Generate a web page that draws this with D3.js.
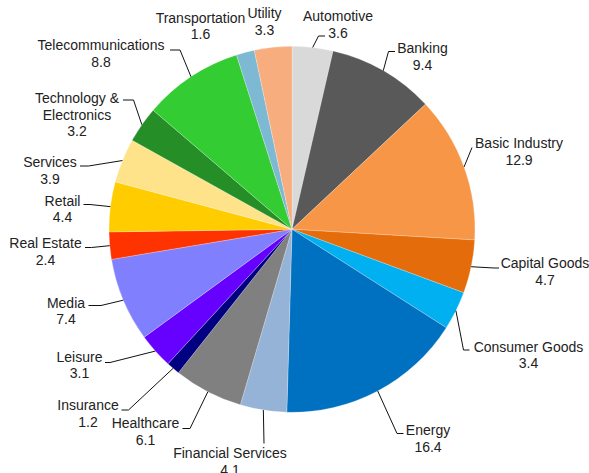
<!DOCTYPE html>
<html>
<head>
<meta charset="utf-8">
<script src="https://cdn.jsdelivr.net/npm/d3@7"></script>
<style>
  html, body { margin: 0; padding: 0; background: #fff; }
  svg { display: block; }
  text { font-family: "Liberation Sans", Arial, Helvetica, sans-serif; font-size: 14px; fill: #222; }
</style>
</head>
<body>
<svg id="chart" width="589" height="473"></svg>
<script>
// Sector weights (%), clockwise from 12 o'clock
const sectors = ["Automotive", "Banking", "Basic Industry", "Capital Goods", "Consumer Goods",
  "Energy", "Financial Services", "Healthcare", "Insurance", "Leisure", "Media", "Real Estate",
  "Retail", "Services", "Technology &\nElectronics", "Telecommunications", "Transportation", "Utility"];
const weights = [3.6, 9.4, 12.9, 4.7, 3.4, 16.4, 4.1, 6.1, 1.2, 3.1, 7.4, 2.4, 4.4, 3.9, 3.2, 8.8, 1.6, 3.3];
const colors = ["#d9d9d9", "#595959", "#f79646", "#e46c0a", "#00b0f0", "#0070c0", "#95b3d7",
  "#808080", "#000080", "#6600ff", "#8080ff", "#ff3300", "#ffcc00", "#ffe38a", "#268e26",
  "#33cc33", "#7db9d2", "#f8ad7f"];

// Label placement: [centre x, first baseline y, elbow x, elbow y, end x] (null elbow = no leader)
const labelLayout = [
  [338, 21, 318.5, 36, 325],
  [422.5, 53, 388.5, 51.5, 395],
  [519, 148, 472, 147.5, 472],
  [545, 268, 494, 268, 499],
  [528.5, 351.5, 463.5, 350, 469.5],
  [428, 435, 397, 433.5, 403.5],
  [230, 458, 264, 443.5, 264],
  [145.5, 428, 190, 428.5, 182.5],
  [88, 410, 128.5, 410, 121.5],
  [79.5, 361.5, 110, 362.5, 105],
  [66, 307.5, 101, 305.5, 88.5],
  [45.5, 248, 91.5, 247.5, 85],
  [62.5, 205.5, 90, 204.5, 83.5],
  [50, 167, 88.5, 166, 80],
  [77, 103, 133.5, 100, 123],
  [101, 50, 180, 50, 170],
  [200.5, 22.5, null, null, null],
  [264.5, 18, null, null, null]
];
const lineGap = 16.5;

const cx = 292, cy = 229.3, radius = 183;
const svg = d3.select("#chart");
const g = svg.append("g").attr("transform", `translate(${cx},${cy})`);

const pie = d3.pie().value(d => d).sort(null);
const arcs = pie(weights);
const arc = d3.arc().innerRadius(0).outerRadius(radius);

g.selectAll("path.slice")
  .data(arcs)
  .join("path")
  .attr("class", "slice")
  .attr("d", arc)
  .attr("fill", (d, i) => colors[i])
  .attr("stroke", "#ffffff")
  .attr("stroke-width", 0.4)
  .attr("stroke-opacity", 0.6);

// Leader lines from the outer edge at each slice's mid-angle
const leaders = svg.append("g");
arcs.forEach((d, i) => {
  const L = labelLayout[i];
  if (L[2] === null) return;
  const mid = (d.startAngle + d.endAngle) / 2;
  const sx = cx + radius * Math.sin(mid);
  const sy = cy - radius * Math.cos(mid);
  const pts = [[sx, sy], [L[2], L[3]], [L[4], L[3]]];
  leaders.append("path")
    .attr("d", d3.line()(pts))
    .attr("fill", "none")
    .attr("stroke", "#111")
    .attr("stroke-width", 1);
});

// Labels: category name(s) and value, centred
const labels = svg.append("g");
arcs.forEach((d, i) => {
  const L = labelLayout[i];
  const lines = sectors[i].split("\n").concat([String(weights[i])]);
  const t = labels.append("text").attr("text-anchor", "middle");
  lines.forEach((s, k) => {
    t.append("tspan").attr("x", L[0]).attr("y", L[1] + k * lineGap).text(s);
  });
});
</script>
</body>
</html>
